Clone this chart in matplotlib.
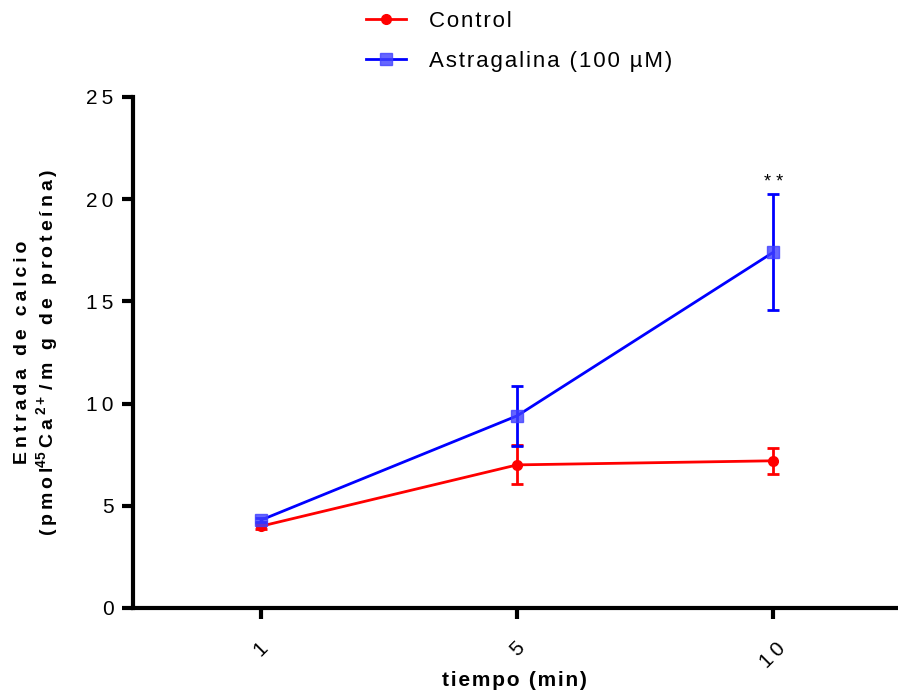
import numpy as np
import matplotlib
matplotlib.use("Agg")
import matplotlib.pyplot as plt
from matplotlib.lines import Line2D

plt.rcParams['font.family'] = ['Liberation Sans', 'DejaVu Sans']
plt.rcParams['mathtext.fontset'] = 'custom'
plt.rcParams['mathtext.rm'] = 'Liberation Sans'
plt.rcParams['mathtext.bf'] = 'Liberation Sans:bold'

# datos
tiempos = ['1', '5', '10']
control = [4.0, 7.0, 7.2]
control_err = [0.15, 0.95, 0.63]
astragalina = [4.3, 9.4, 17.4]
astragalina_err = [0.1, 1.46, 2.83]

rojo = '#ff0000'
azul = '#0000ff'
azul_marca = (0.25, 0.25, 1.0, 0.8)


def espaciado(s, sep='\u2009'):
    # texto con letras separadas, como en el original
    return sep.join(s)


x = np.arange(len(tiempos))

fig = plt.figure(figsize=(8.98, 6.92), dpi=100)
ax = fig.add_axes([0.148, 0.1214, 0.85, 0.7386])

ax.errorbar(x, control, yerr=control_err, color=rojo, marker='o',
            markersize=7, linewidth=2, elinewidth=2, capsize=4, capthick=2,
            zorder=3)
ax.errorbar(x, astragalina, yerr=astragalina_err, color=azul, marker='s',
            markersize=9, markerfacecolor=azul_marca, markeredgecolor=azul_marca,
            linewidth=2, elinewidth=2, capsize=4, capthick=2, zorder=4)

ax.text(x[2], astragalina[2] + astragalina_err[2] + 0.15, '* *', ha='center',
        va='bottom', fontsize=13)

ax.set_xlim(-0.5, 2.48)
ax.set_ylim(0, 25)
ax.set_yticks([0, 5, 10, 15, 20, 25])
ax.set_yticklabels([espaciado(str(v)) for v in [0, 5, 10, 15, 20, 25]])
ax.set_xticks(x)
ax.set_xticklabels([espaciado(t) for t in tiempos], rotation=45, fontsize=15)
ax.tick_params(axis='x', pad=14)
ax.tick_params(axis='y', labelsize=15, pad=6)
ax.tick_params(width=3, length=8)

for s in ['top', 'right']:
    ax.spines[s].set_visible(False)
for s in ['left', 'bottom']:
    ax.spines[s].set_linewidth(3)

ax.set_xlabel(espaciado('tiempo (min)', '\u200a'), fontsize=15,
              fontweight='bold', labelpad=0)
ylab = (espaciado('Entrada de calcio') + '\n' + espaciado('(pmol') +
        r'$^{\mathbf{45}}$' + '\u2009' + espaciado('Ca') + '\u2009' +
        r'$^{\mathbf{2+}}$' + '\u2009' + espaciado('/m g de proteína)'))
ax.set_ylabel(ylab, fontsize=14, fontweight='bold', labelpad=18,
              linespacing=1.15)

handles = [
    Line2D([], [], color=rojo, marker='o', markersize=7, linewidth=2),
    Line2D([], [], color=azul, marker='s', markersize=9, linewidth=2,
           markerfacecolor=azul_marca, markeredgecolor=azul_marca),
]
etiquetas = [espaciado('Control', '\u200a'),
             espaciado('Astragalina (100 µM)', '\u200a')]
ax.legend(handles, etiquetas, loc='lower center', bbox_to_anchor=(0.506, 1.01),
          frameon=False, fontsize=16, handlelength=1.8, labelspacing=0.85,
          handletextpad=1.0)

plt.savefig('out.png', dpi=100)
